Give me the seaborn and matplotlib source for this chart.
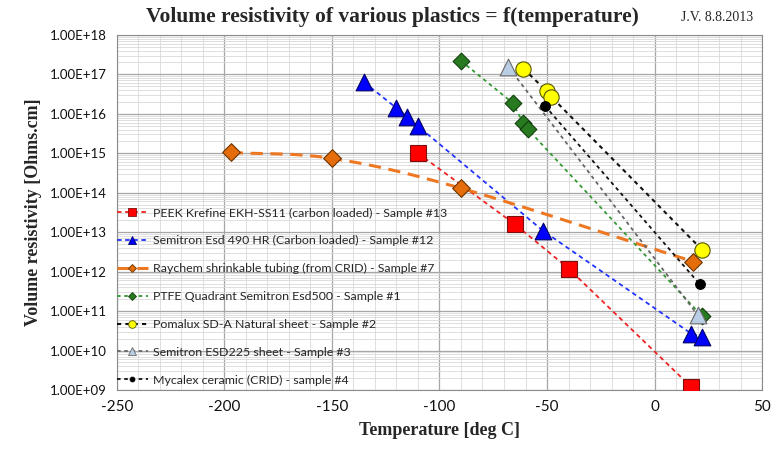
"""
Volume resistivity of various plastics vs temperature (log scale)
"""

import numpy as np
import pandas as pd
import matplotlib
matplotlib.use("Agg")
import matplotlib.pyplot as plt
from matplotlib.lines import Line2D
from matplotlib.ticker import FixedLocator, FuncFormatter, MultipleLocator
import seaborn as sns

# ── Data ─────────────────────────────────────────────────────────────────────
peek_t   = [-110, -65, -40, 17]
peek_r   = [1.0e15, 1.6e13, 1.2e12, 1.2e9]

esd490_t = [-135, -120, -115, -110, -52, 17, 22]
esd490_r = [6.3e16, 1.4e16, 8.5e15, 4.9e15, 1.1e13, 2.7e10, 2.2e10]

raychem_t = [-197, -150, -90, 18]
raychem_r = [1.05e15, 7.4e14, 1.3e14, 1.8e12]

ptfe_t   = [-90, -66, -61, -59, 22]
ptfe_r   = [2.2e17, 1.9e16, 5.8e15, 4.1e15, 7.5e10]

pomalux_t = [-61, -50, -48, 22]
pomalux_r = [1.4e17, 3.7e16, 2.7e16, 3.6e12]

esd225_t = [-68, 20]
esd225_r = [1.55e17, 8.0e10]

mycalex_t = [-51, 21]
mycalex_r = [1.6e16, 4.8e11]

labels = [
    "PEEK Krefine EKH-SS11 (carbon loaded) - Sample #13",
    "Semitron Esd 490 HR (Carbon loaded) - Sample #12",
    "Raychem shrinkable tubing (from CRID) - Sample #7",
    "PTFE Quadrant Semitron Esd500 - Sample #1",
    "Pomalux SD-A Natural sheet - Sample #2",
    "Semitron ESD225 sheet - Sample #3",
    "Mycalex ceramic (CRID) - sample #4",
]

# ── Style ────────────────────────────────────────────────────────────────────
sns.set_style("white")
plt.rcParams.update({
    "font.family": ["Lato", "DejaVu Sans"],
    "axes.unicode_minus": False,
    "axes.edgecolor": "#8c8c8c",
    "axes.linewidth": 0.8,
    "xtick.color": "#8c8c8c",
    "ytick.color": "#8c8c8c",
    "xtick.labelcolor": "#111111",
    "ytick.labelcolor": "#111111",
})

# (temps, values, line colour, dashes, lw, marker, msize, face, edge)
series = [
    (peek_t,    peek_r,    "#ee2222", (2.5, 2.0), 1.3, "s", 12,  "#ff0000", "#7a1010"),
    (esd490_t,  esd490_r,  "#2233ff", (2.5, 2.0), 1.3, "^", 12,  "#0000ff", "#000066"),
    (raychem_t, raychem_r, "#ee7722", (4.0, 2.5), 2.2, "D", 9,   "#e46c0a", "#6b3300"),
    (ptfe_t,    ptfe_r,    "#339933", (2.0, 2.0), 1.3, "D", 8.5, "#277a1f", "#123d0e"),
    (pomalux_t, pomalux_r, "#111111", (2.0, 2.0), 1.5, "o", 11,  "#ffff00", "#555500"),
    (esd225_t,  esd225_r,  "#666666", (2.0, 2.0), 1.3, "^", 12,  "#b9cde5", "#6a6a6a"),
    (mycalex_t, mycalex_r, "#111111", (2.0, 2.0), 1.3, "o", 7,   "#000000", "#000000"),
]


def smooth(xs, ys, n=40):
    # Catmull-Rom through the points in (x, log y) space, like Excel's smoothed line
    p = np.column_stack([xs, np.log10(ys)])
    p = np.vstack([p[0] - (p[1] - p[0]), p, p[-1] + (p[-1] - p[-2])])
    out = []
    for i in range(1, len(p) - 2):
        p0, p1, p2, p3 = p[i - 1], p[i], p[i + 1], p[i + 2]
        t = np.linspace(0, 1, n)[:, None]
        seg = 0.5 * ((2 * p1) + (-p0 + p2) * t + (2 * p0 - 5 * p1 + 4 * p2 - p3) * t**2
                     + (-p0 + 3 * p1 - 3 * p2 + p3) * t**3)
        out.append(seg)
    out = np.vstack(out)
    return out[:, 0], 10 ** out[:, 1]


fig = plt.figure(figsize=(7.73, 4.53), dpi=100)
ax = fig.add_axes([0.151, 0.139, 0.835, 0.784])

handles = []
for i, (t, r, lc, dash, lw, mk, ms, fc, ec) in enumerate(series):
    df = pd.DataFrame({"t": t, "r": r})
    if i == 2:
        sx, sy = smooth(t, r)
        line_df = pd.DataFrame({"t": sx, "r": sy})
    else:
        line_df = df
    sns.lineplot(data=line_df, x="t", y="r", ax=ax, sort=False, color=lc,
                 linewidth=lw, dashes=False, estimator=None, zorder=3)
    ax.lines[-1].set_dashes(dash)
    sns.scatterplot(data=df, x="t", y="r", ax=ax, marker=mk, s=ms**2,
                    color=fc, edgecolor=ec, linewidth=0.8, zorder=4)
    handles.append(Line2D([], [], color=lc, lw=lw, dashes=dash, marker=mk,
                          markersize=ms * 0.5, markerfacecolor=fc,
                          markeredgecolor=ec, markeredgewidth=0.6))

ax.set_yscale("log")
ax.set_xlim(-250, 50)
ax.set_ylim(1e9, 1e18)

# grid: decades / 50 deg major, 2..9 / 10 deg minor
ax.xaxis.set_major_locator(MultipleLocator(50))
ax.xaxis.set_minor_locator(MultipleLocator(10))
ax.yaxis.set_major_locator(FixedLocator([10.0**k for k in range(9, 19)]))
minors = [m * 10.0**k for k in range(9, 18) for m in range(2, 10)]
ax.yaxis.set_minor_locator(FixedLocator(minors))
ax.yaxis.set_major_formatter(FuncFormatter(lambda v, _: f"{v:.2E}"))
ax.grid(True, which="major", color="#a6a6a6", linewidth=0.9, zorder=0)
ax.grid(True, which="minor", color="#d9d9d9", linewidth=0.6, zorder=0)
ax.set_axisbelow(True)
ax.tick_params(axis="both", which="major", direction="out", length=4, width=0.8)
ax.tick_params(axis="both", which="minor", length=0)
ax.tick_params(axis="x", labelsize=11, pad=3)
ax.tick_params(axis="y", labelsize=9.5, pad=3)

ax.set_xlabel("Temperature [deg C]", family="Liberation Serif", fontweight="bold",
              fontsize=13, labelpad=6)
ax.set_ylabel("Volume resistivity [Ohms.cm]", family="Liberation Serif",
              fontweight="bold", fontsize=13, labelpad=6)

fig.text(0.508, 0.962, "Volume resistivity of various plastics = f(temperature)",
         ha="center", va="center", family="Liberation Serif", fontweight="bold",
         fontsize=15.5)
fig.text(0.928, 0.962, "J.V. 8.8.2013", ha="center", va="center",
         family="Liberation Serif", fontsize=10)

ax.legend(handles=handles, labels=labels, loc="upper left",
          bbox_to_anchor=(0.0, 0.514), frameon=False, fontsize=8.9,
          handlelength=2.5, handletextpad=0.45, labelspacing=1.36,
          borderaxespad=0, borderpad=0)

fig.savefig("out.png", dpi=100)
